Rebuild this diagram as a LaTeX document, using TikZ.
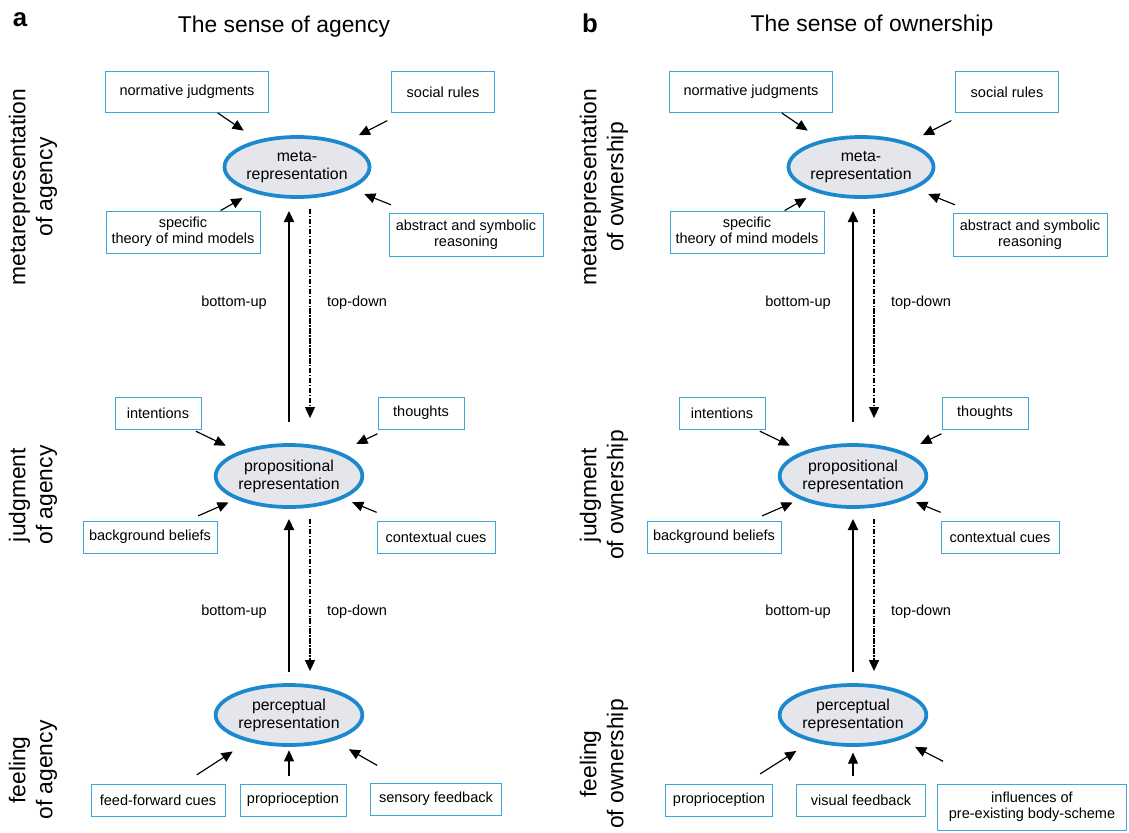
\documentclass[tikz,border=0pt]{standalone}
\usepackage{fontspec}
\setmainfont{Liberation Sans}
\usetikzlibrary{arrows.meta, shapes.geometric}

\definecolor{cueblue}{RGB}{60,168,218}
\definecolor{ringblue}{RGB}{28,136,206}
\definecolor{ringfill}{RGB}{228,230,236}

\begin{document}
\begin{tikzpicture}[
    x=0.03cm,
    y=-0.03cm,
    >={Triangle[length=9.5pt, width=8.5pt]},
    cue/.style={draw=cueblue, line width=0.8pt, align=center, inner sep=1pt, font=\fontsize{12.4}{14}\selectfont},
    stage/.style={ellipse, draw=ringblue, line width=3.2pt, fill=ringfill, inner sep=0pt, align=center, font=\fontsize{13.5}{15.5}\selectfont},
    sidetext/.style={rotate=90, align=center, font=\fontsize{19.5}{23}\selectfont},
    head/.style={font=\fontsize{19.5}{23}\selectfont},
    panel/.style={font=\fontsize{22}{26}\selectfont\bfseries},
    flow/.style={font=\fontsize{12.4}{14}\selectfont},
    feed/.style={->, line width=1pt},
    upflow/.style={->, line width=1.8pt},
    downflow/.style={->, line width=1.4pt, dash pattern=on 4.5pt off 1.5pt on 1pt off 1.5pt},
]

    \useasboundingbox (0,0) rectangle (1129,832);

    % panel a
    \node[panel] (la) at (20,20) {a};
    \node[head]  (ta) at (284,27) {The sense of agency};

    \node[sidetext] (sa1) at (33,187) {metarepresentation\\of agency};
    \node[sidetext] (sa2) at (33,495) {judgment\\of agency};
    \node[sidetext] (sa3) at (33,770) {feeling\\of agency};

    \node[stage, minimum width=4.35cm, minimum height=1.8cm]  (metaA) at (297,167) {meta-\\representation};
    \node[stage, minimum width=4.4cm,  minimum height=1.86cm] (propA) at (289,476) {propositional\\representation};
    \node[stage, minimum width=4.4cm,  minimum height=1.8cm]  (percA) at (289,715) {perceptual\\representation};

    \node[cue, minimum width=4.89cm, minimum height=1.23cm] (njA)   at (187,92)  {normative judgments};
    \node[cue, minimum width=3.09cm, minimum height=1.23cm] (srA)   at (443,92)  {social rules};
    \node[cue, minimum width=4.62cm, minimum height=1.26cm] (specA) at (183,232) {specific\\theory of mind models};
    \node[cue, minimum width=4.62cm, minimum height=1.29cm] (absA)  at (466,235) {abstract and symbolic\\reasoning};

    \node[cue, minimum width=2.58cm, minimum height=0.96cm] (intA)  at (158,413) {intentions};
    \node[cue, minimum width=2.58cm, minimum height=0.96cm] (thoA)  at (421,413) {thoughts};
    \node[cue, minimum width=4.02cm, minimum height=0.96cm] (bgA)   at (150,537) {background beliefs};
    \node[cue, minimum width=3.54cm, minimum height=0.96cm] (ctxA)  at (436,537) {contextual cues};

    \node[cue, minimum width=4.02cm, minimum height=0.96cm] (ffA)   at (158,800) {feed-forward cues};
    \node[cue, minimum width=3.18cm, minimum height=0.96cm] (ppA)   at (293,800) {proprioception};
    \node[cue, minimum width=3.93cm, minimum height=0.96cm] (sfA)   at (436,799) {sensory feedback};

    \node[flow] (buA1) at (234,303) {bottom-up};
    \node[flow] (tdA1) at (357,303) {top-down};
    \node[flow] (buA2) at (234,612) {bottom-up};
    \node[flow] (tdA2) at (357,612) {top-down};

    \path
        (njA)   edge [feed, shorten >=0.5cm]                      (metaA)
        (srA)   edge [feed, shorten <=0.5cm,  shorten >=0.48cm]   (metaA)
        (specA) edge [feed, shorten >=0.34cm]                     (metaA)
        (absA)  edge [feed, shorten <=0.66cm, shorten >=0.42cm]   (metaA)
        (intA)  edge [feed, shorten <=0.12cm, shorten >=0.42cm]   (propA)
        (thoA)  edge [feed, shorten <=0.3cm,  shorten >=0.55cm]   (propA)
        (bgA)   edge [feed, shorten <=0.35cm, shorten >=0.24cm]   (propA)
        (ctxA)  edge [feed, shorten <=0.64cm, shorten >=0.28cm]   (propA)
        (ffA)   edge [feed, shorten <=0.48cm, shorten >=0.54cm]   (percA)
        (sfA)   edge [feed, shorten <=1.04cm, shorten >=0.52cm]   (percA)
    ;
    \draw[feed, shorten <=0.24cm, shorten >=0.1cm] (ppA.north -| percA.south) -- (percA.south);

    \draw[upflow,   shorten <=0.63cm, shorten >=0.36cm] (propA.north) -- (propA.north |- metaA.south);
    \draw[downflow, shorten <=0.3cm,  shorten >=0.75cm] ([xshift=0.63cm]propA.north |- metaA.south) -- ([xshift=0.63cm]propA.north);
    \draw[upflow,   shorten <=0.33cm, shorten >=0.3cm]  (percA.north) -- (percA.north |- propA.south);
    \draw[downflow, shorten <=0.3cm,  shorten >=0.36cm] ([xshift=0.63cm]percA.north |- propA.south) -- ([xshift=0.63cm]percA.north);

    % panel b
    \node[panel] (lb) at (590,23) {b};
    \node[head]  (tb) at (872,26) {The sense of ownership};

    \node[sidetext] (sb1) at (604,187) {metarepresentation\\of ownership};
    \node[sidetext] (sb2) at (604,495) {judgment\\of ownership};
    \node[sidetext] (sb3) at (604,764) {feeling\\of ownership};

    \node[stage, minimum width=4.35cm, minimum height=1.8cm]  (metaB) at (861,167) {meta-\\representation};
    \node[stage, minimum width=4.4cm,  minimum height=1.86cm] (propB) at (853,476) {propositional\\representation};
    \node[stage, minimum width=4.4cm,  minimum height=1.8cm]  (percB) at (853,715) {perceptual\\representation};

    \node[cue, minimum width=4.89cm, minimum height=1.23cm] (njB)   at (751,92)   {normative judgments};
    \node[cue, minimum width=3.09cm, minimum height=1.23cm] (srB)   at (1007,92)  {social rules};
    \node[cue, minimum width=4.62cm, minimum height=1.26cm] (specB) at (747,232)  {specific\\theory of mind models};
    \node[cue, minimum width=4.62cm, minimum height=1.29cm] (absB)  at (1030,235) {abstract and symbolic\\reasoning};

    \node[cue, minimum width=2.58cm, minimum height=0.96cm] (intB)  at (722,413)  {intentions};
    \node[cue, minimum width=2.58cm, minimum height=0.96cm] (thoB)  at (985,413)  {thoughts};
    \node[cue, minimum width=4.02cm, minimum height=0.96cm] (bgB)   at (714,537)  {background beliefs};
    \node[cue, minimum width=3.54cm, minimum height=0.96cm] (ctxB)  at (1000,537) {contextual cues};

    \node[cue, minimum width=3.21cm, minimum height=0.96cm] (ppB)   at (719,800)  {proprioception};
    \node[cue, minimum width=3.87cm, minimum height=0.96cm] (vfB)   at (861,800)  {visual feedback};
    \node[cue, minimum width=5.67cm, minimum height=1.38cm] (bsB)   at (1032,807) {influences of\\pre-existing body-scheme};

    \node[flow] (buB1) at (798,303) {bottom-up};
    \node[flow] (tdB1) at (921,303) {top-down};
    \node[flow] (buB2) at (798,612) {bottom-up};
    \node[flow] (tdB2) at (921,612) {top-down};

    \path
        (njB)   edge [feed, shorten >=0.5cm]                      (metaB)
        (srB)   edge [feed, shorten <=0.5cm,  shorten >=0.48cm]   (metaB)
        (specB) edge [feed, shorten >=0.34cm]                     (metaB)
        (absB)  edge [feed, shorten <=0.66cm, shorten >=0.42cm]   (metaB)
        (intB)  edge [feed, shorten <=0.12cm, shorten >=0.42cm]   (propB)
        (thoB)  edge [feed, shorten <=0.3cm,  shorten >=0.55cm]   (propB)
        (bgB)   edge [feed, shorten <=0.35cm, shorten >=0.24cm]   (propB)
        (ctxB)  edge [feed, shorten <=0.64cm, shorten >=0.28cm]   (propB)
        (ppB)   edge [feed, shorten <=0.54cm, shorten >=0.53cm]   (percB)
        (bsB)   edge [feed, shorten <=1.46cm, shorten >=0.48cm]   (percB)
    ;
    \draw[feed, shorten <=0.24cm, shorten >=0.17cm] (vfB.north -| percB.south) -- (percB.south);

    \draw[upflow,   shorten <=0.63cm, shorten >=0.36cm] (propB.north) -- (propB.north |- metaB.south);
    \draw[downflow, shorten <=0.3cm,  shorten >=0.75cm] ([xshift=0.63cm]propB.north |- metaB.south) -- ([xshift=0.63cm]propB.north);
    \draw[upflow,   shorten <=0.33cm, shorten >=0.3cm]  (percB.north) -- (percB.north |- propB.south);
    \draw[downflow, shorten <=0.3cm,  shorten >=0.36cm] ([xshift=0.63cm]percB.north |- propB.south) -- ([xshift=0.63cm]percB.north);

\end{tikzpicture}
\end{document}
